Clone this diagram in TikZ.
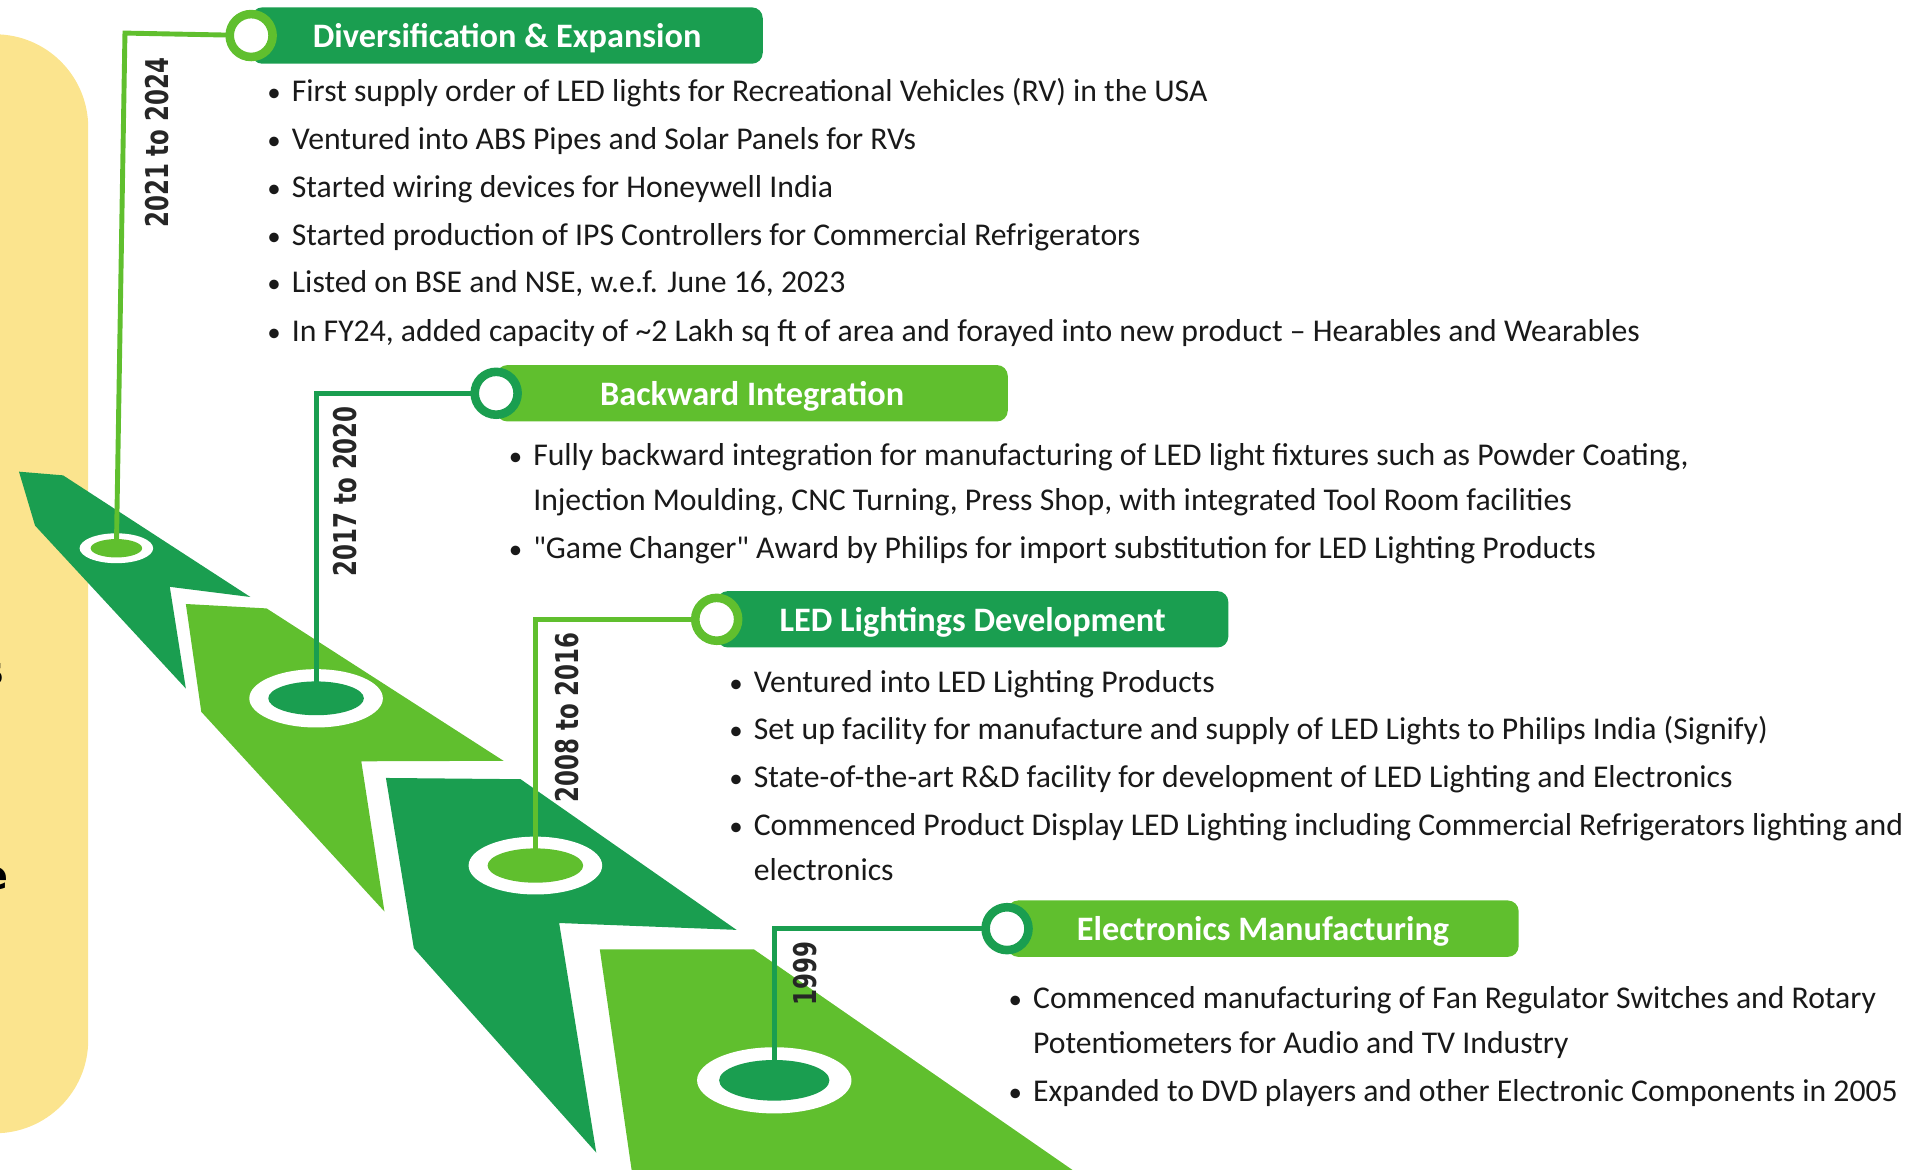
\documentclass[tikz,border=0pt]{standalone}
\usepackage{fontspec}
\setmainfont{Carlito}[Ligatures=TeXOff]
\newfontfamily\yrfont{DejaVu Sans}
\usetikzlibrary{shapes.geometric}
\usetikzlibrary{positioning}
\definecolor{dkgreen}{RGB}{26,158,80}
\definecolor{ltgreen}{RGB}{96,191,46}
\definecolor{panelyel}{RGB}{251,228,142}
\definecolor{yrgray}{RGB}{38,38,38}
\newcommand{\bl}{\makebox[0.5cm][l]{\scalebox{0.85}{\textbullet}}}
\newcommand{\nb}{\hspace*{0.5cm}}
\newcommand{\hdtext}[1]{\raisebox{-0.25cm}[0pt][0pt]{#1}}
\tikzset{
  hdr/.style = {rectangle, rounded corners=0.22cm, anchor=west, inner sep=0pt,
    minimum width=10.43cm, minimum height=1.15cm, text=white,
    font=\fontsize{19.9}{24}\selectfont\bfseries},
  hdr_d/.style = {hdr, fill=dkgreen},% header, dark
  hdr_l/.style = {hdr, fill=ltgreen},% header, light
  dot/.style = {circle, fill=white, line width=0.175cm, minimum size=0.875cm,
    inner sep=0pt},
  dot_d/.style = {dot, draw=dkgreen},
  dot_l/.style = {dot, draw=ltgreen},
  ring/.style = {ellipse, inner sep=0pt},
  stem_d/.style = {draw=dkgreen, line width=0.1cm},
  stem_l/.style = {draw=ltgreen, line width=0.1cm},
  yr/.style = {rotate=90, inner sep=0pt, text=yrgray,
    font=\yrfont\bfseries\fontsize{18.2}{20}\selectfont},
  txt/.style = {anchor=base west, inner sep=0pt, text=black!90,
    font=\fontsize{18.4}{22}\selectfont}
}

\begin{document}
\begin{tikzpicture}[x=0.025cm, y=-0.025cm]
\useasboundingbox (0,0) rectangle (1568,955);

% yellow panel on the left
\fill[panelyel, rounded corners=1.9cm] (-100,28) rectangle (72,925);
\begin{scope}
\clip (0,0) rectangle (72,955);
\node[anchor=base east, inner sep=0pt, font=\yrfont\bfseries\fontsize{23}{26}\selectfont] (fs) at (4,559) {s};
\node[anchor=base east, inner sep=0pt, font=\yrfont\bfseries\fontsize{23}{26}\selectfont] (fd) at (2,607) {.};
\node[anchor=base east, inner sep=0pt, font=\yrfont\bfseries\fontsize{23}{26}\selectfont] (fe) at (7,726) {e};
\end{scope}

% zigzag ribbon
\fill[dkgreen] (15.5,385) -- (51.5,388) -- (204.4,487.3) -- (138.6,479) -- (151.7,562) -- (28.6,429) -- cycle;
\fill[ltgreen] (151.7,493) -- (217.6,496.6) -- (411,621) -- (294.9,621.4) -- (313.8,744) -- (164.3,581) -- cycle;
\fill[dkgreen] (315,635) -- (424.9,636) -- (601.2,759) -- (456.4,753.4) -- (486.7,940.8) -- (337.8,774) -- cycle;
\fill[ltgreen] (489.6,775) -- (615.5,775) -- (900,972) -- (518,972) -- cycle;

% rings on the ribbon
\node[ring, fill=white, minimum width=1.5cm, minimum height=0.61cm] (r1) at (95,447.5) {};
\node[ring, fill=ltgreen, minimum width=1.05cm, minimum height=0.375cm] at (r1) {};
\node[ring, fill=white, minimum width=2.725cm, minimum height=1.19cm] (r2) at (258,570) {};
\node[ring, fill=dkgreen, minimum width=1.95cm, minimum height=0.69cm] at (r2) {};
\node[ring, fill=white, minimum width=2.725cm, minimum height=1.18cm] (r3) at (437,706.5) {};
\node[ring, fill=ltgreen, minimum width=1.95cm, minimum height=0.7cm] at (r3) {};
\node[ring, fill=white, minimum width=3.15cm, minimum height=1.35cm] (r4) at (632,881.8) {};
\node[ring, fill=dkgreen, minimum width=2.25cm, minimum height=0.83cm] at (r4) {};

% headers
\node[hdr_d] (h1) at (205,29) {\hdtext{Diversification \& Expansion}};
\node[hdr_l] (h2) at (405,321) {\hdtext{Backward Integration}};
\node[hdr_d] (h3) at (585,505.5) {\hdtext{LED Lightings Development}};
\node[hdr_l] (h4) at (822,758) {\hdtext{Electronics Manufacturing}};

% stems
\coordinate (k1) at (102,27);
\draw[stem_l] (r1.center) -- (k1) -- (h1.west);
\draw[stem_d] (r2.center) |- (h2.west);
\draw[stem_l] (r3.center) |- (h3.west);
\draw[stem_d] (r4.center) |- (h4.west);

\node[dot_l] (c1) at (h1.west) {};
\node[dot_d] (c2) at (h2.west) {};
\node[dot_l] (c3) at (h3.west) {};
\node[dot_d] (c4) at (h4.west) {};

% years
\node[yr] (y1) at (128,116.5) {\scalebox{0.73}[1]{2021 to 2024}};
\node[yr] (y2) at (282,401) {\scalebox{0.73}[1]{2017 to 2020}};
\node[yr] (y3) at (463,585.7) {\scalebox{0.73}[1]{2008 to 2016}};
\node[yr] (y4) at (657,794.6) {\scalebox{0.73}[1]{1999}};

% bullet texts
\node[txt] (t11) at (218,83) {\bl First supply order of LED lights for Recreational Vehicles (RV) in the USA};
\node[txt] (t12) at (218,122) {\bl Ventured into ABS Pipes and Solar Panels for RVs};
\node[txt] (t13) at (218,161) {\bl Started wiring devices for Honeywell India};
\node[txt] (t14) at (218,200) {\bl Started production of IPS Controllers for Commercial Refrigerators};
\node[txt] (t15) at (218,239) {\bl Listed on BSE and NSE, w.e.f. June 16, 2023};
\node[txt] (t16) at (218,279) {\bl In FY24, added capacity of \textasciitilde2 Lakh sq ft of area and forayed into new product – Hearables and Wearables};

\node[txt] (t21) at (415,380) {\bl Fully backward integration for manufacturing of LED light fixtures such as Powder Coating,};
\node[txt] (t22) at (415,417) {\nb Injection Moulding, CNC Turning, Press Shop, with integrated Tool Room facilities};
\node[txt] (t23) at (415,456) {\bl "Game Changer" Award by Philips for import substitution for LED Lighting Products};

\node[txt] (t31) at (595,565) {\bl Ventured into LED Lighting Products};
\node[txt] (t32) at (595,604) {\bl Set up facility for manufacture and supply of LED Lights to Philips India (Signify)};
\node[txt] (t33) at (595,643) {\bl State-of-the-art R\&D facility for development of LED Lighting and Electronics};
\node[txt] (t34) at (595,682) {\bl Commenced Product Display LED Lighting including Commercial Refrigerators lighting and};
\node[txt] (t35) at (595,719) {\nb electronics};

\node[txt] (t41) at (823,823) {\bl Commenced manufacturing of Fan Regulator Switches and Rotary};
\node[txt] (t42) at (823,860) {\nb Potentiometers for Audio and TV Industry};
\node[txt] (t43) at (823,899) {\bl Expanded to DVD players and other Electronic Components in 2005};
\end{tikzpicture}
\end{document}
